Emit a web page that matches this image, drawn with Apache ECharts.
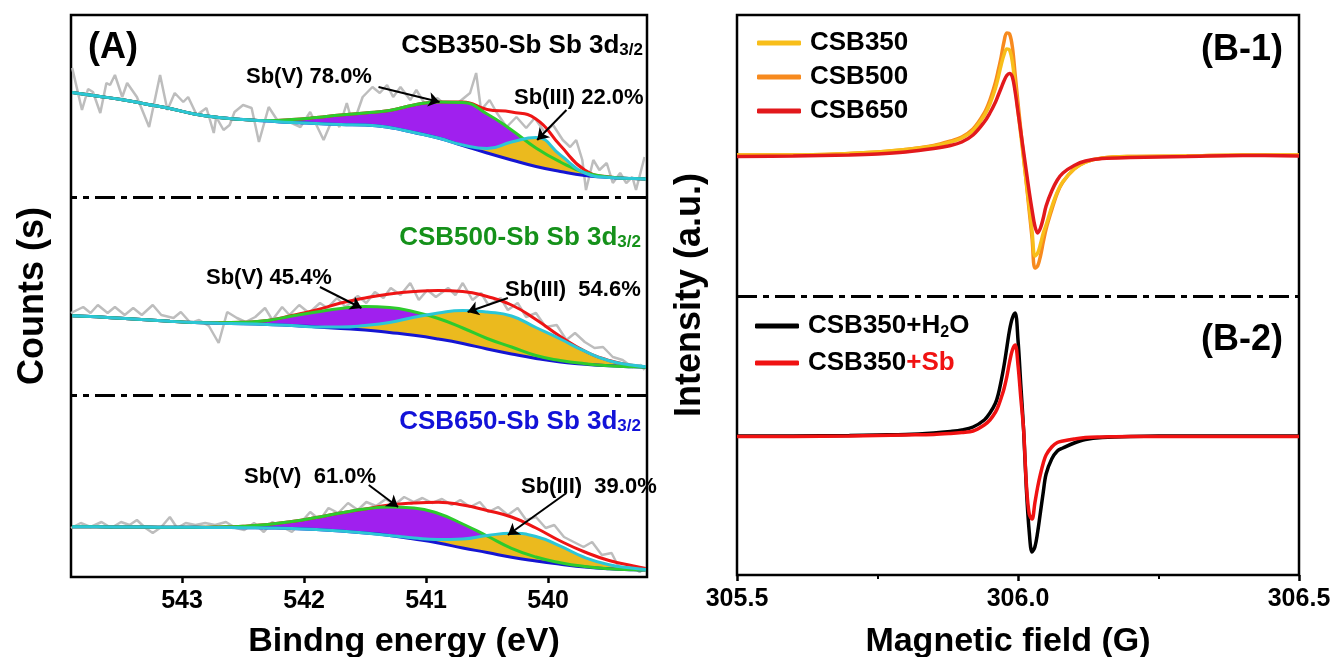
<!DOCTYPE html>
<html>
<head>
<meta charset="utf-8">
<script src="https://cdn.jsdelivr.net/npm/echarts@6/dist/echarts.min.js"></script>
<style>
  html, body { margin: 0; padding: 0; background: #fff; }
  #chart { width: 1331px; height: 657px; }
</style>
</head>
<body>
<div id="chart"></div>
<script>
// ---------- (A) XPS Sb 3d3/2 peak fitting ----------
// binding energies (eV) of the fitted curves
const energy = [543.9, 543.7, 543.5, 543.3, 543.1, 542.9, 542.7, 542.5, 542.3, 542.1, 541.9, 541.7, 541.5,
                541.3, 541.1, 540.9, 540.7, 540.5, 540.3, 540.1, 539.9, 539.7, 539.5, 539.3, 539.2];
const energyTicks = [540, 541, 542, 543];

// CSB350-Sb (counts, offset stack)
const bg350    = [484.5, 481, 477.5, 473, 468.5, 463, 459.5, 457.5, 456, 454.5, 453.5, 452.5, 452, 449.5, 444.5, 439, 431.5, 424, 417, 410.5, 405.5, 401.5, 399.5, 398.5, 398];
const sbV350   = [0, 0, 0, 0, 0, 0, 0, 0, 0.5, 3, 6, 9.5, 12, 17, 27.5, 36, 43, 39, 30, 18.5, 9.5, 3, 0.5, 0, 0];
const sbIII350 = [0, 0, 0, 0, 0, 0, 0, 0, 0, 0, 0, 0, 0, 0, 0, 0, 0.5, 4.5, 18, 29, 16.5, 2.5, 0, 0, 0];
const env350   = [484.5, 481, 477.5, 473, 468.5, 463, 459.5, 457.5, 456.5, 457.5, 459.5, 462, 464, 466.5, 472, 475, 475, 467.5, 465, 458, 431.5, 407, 400, 398.5, 398];
const raw350 = [[543.90,509],[543.82,467],[543.77,488],[543.73,485],[543.67,464],[543.62,494],[543.59,492],[543.55,502],[543.49,480],[543.45,494],[543.37,480],[543.27,450],[543.18,502],[543.12,467],[543.06,484],[542.99,475],[542.95,480],[542.88,462],[542.80,469],[542.74,444],[542.72,460],[542.66,447],[542.61,452],[542.57,465],[542.50,472],[542.43,469],[542.37,435],[542.29,470],[542.21,455],[542.12,455],[542.03,450],[541.95,465],[541.84,437],[541.76,460],[541.71,450],[541.65,474],[541.60,452],[541.52,480],[541.44,490],[541.38,484],[541.32,492],[541.27,480],[541.21,490],[541.13,477],[541.08,487],[540.99,469],[540.91,479],[540.86,474],[540.78,470],[540.71,477],[540.64,484],[540.59,504],[540.55,467],[540.48,477],[540.42,464],[540.34,450],[540.26,460],[540.18,449],[540.11,459],[540.03,445],[539.96,452],[539.88,437],[539.82,430],[539.77,437],[539.72,417],[539.69,387],[539.63,417],[539.58,407],[539.52,414],[539.47,394],[539.41,404],[539.36,394],[539.31,400],[539.28,387],[539.21,420]];

// CSB500-Sb
const bg500    = [261.3, 260.2, 258.7, 257.2, 255.7, 254.5, 253.8, 253.2, 252.5, 251.5, 250, 248.5, 247, 244.5, 241.7, 238, 233.5, 228, 223, 218.5, 215, 212.8, 211.2, 210.2, 209.7];
const sbV500   = [0, 0, 0, 0, 0, 0, 0.5, 1.5, 4, 9.5, 15, 20, 23.5, 25, 23.5, 20.5, 15.5, 10.5, 7, 3, 1.5, 0.5, 0, 0, 0];
const sbIII500 = [0, 0, 0, 0, 0, 0, 0, 0, 0, 0, 0, 1.5, 4.5, 10, 18, 26, 33, 37, 38, 31, 23, 13, 5, 1.5, 0.5];
const env500   = [261.3, 260.2, 258.7, 257.2, 255.7, 254.5, 254.3, 254.7, 256.5, 261.5, 267, 274, 279, 283, 285.5, 286.5, 285.5, 280.5, 272, 257.5, 240.5, 226, 216.5, 211.5, 210];
const raw500 = [[543.91,264],[543.81,270],[543.75,264],[543.69,272],[543.61,264],[543.55,270],[543.47,262],[543.40,269],[543.33,262],[543.24,272],[543.17,262],[543.07,259],[543.01,265],[542.93,254],[542.86,257],[542.78,251],[542.70,234],[542.63,265],[542.55,259],[542.48,255],[542.40,260],[542.32,269],[542.26,257],[542.18,270],[542.12,262],[542.04,272],[541.96,264],[541.87,274],[541.81,269],[541.73,279],[541.66,270],[541.56,281],[541.49,274],[541.42,285],[541.35,279],[541.29,289],[541.21,282],[541.13,294],[541.06,277],[540.99,287],[540.92,280],[540.82,289],[540.76,282],[540.70,294],[540.62,277],[540.55,284],[540.49,272],[540.39,279],[540.33,267],[540.25,274],[540.18,260],[540.10,264],[540.02,250],[539.93,252],[539.85,237],[539.78,244],[539.70,235],[539.62,229],[539.55,230],[539.47,220],[539.39,217],[539.31,210],[539.24,212],[539.21,207]];

// CSB650-Sb
const bg650    = [50.3, 50.2, 50, 49.9, 49.8, 49.7, 49.5, 49.3, 49, 48.5, 47.5, 46, 44, 41.5, 38, 34, 29, 24.5, 19.7, 16, 12.8, 10, 8.2, 7.3, 7];
const sbV650   = [0, 0, 0, 0, 0, 0, 0.5, 1.5, 3.5, 7, 12, 18, 24, 28.5, 31, 29.5, 24, 16.5, 9, 4, 1.5, 0.5, 0, 0, 0];
const sbIII650 = [0, 0, 0, 0, 0, 0, 0, 0, 0, 0, 0, 0, 0, 0, 1, 3.5, 9, 17, 24, 24.5, 18, 9.5, 4, 1.5, 0.5];
const env650   = [50.3, 50.2, 50, 49.9, 49.8, 49.7, 50, 50.8, 52.5, 55.5, 59.5, 64, 68, 72, 74, 74.7, 72, 66.5, 60, 49, 36, 25, 16.5, 11, 8.5];
const raw650 = [[543.91,49],[543.83,54],[543.75,50],[543.66,55],[543.58,49],[543.50,55],[543.43,52],[543.37,57],[543.30,49],[543.24,44],[543.17,50],[543.10,60],[543.04,49],[542.97,54],[542.89,52],[542.81,54],[542.73,52],[542.64,55],[542.56,49],[542.49,47],[542.41,54],[542.33,45],[542.26,55],[542.18,50],[542.10,45],[542.03,54],[541.95,65],[541.87,57],[541.80,69],[541.72,64],[541.64,74],[541.56,67],[541.49,75],[541.41,71],[541.33,78],[541.26,72],[541.18,80],[541.10,75],[541.03,79],[540.95,74],[540.87,78],[540.79,72],[540.72,77],[540.64,70],[540.56,75],[540.49,65],[540.41,70],[540.33,62],[540.25,69],[540.18,57],[540.10,60],[540.02,49],[539.95,52],[539.87,40],[539.79,35],[539.71,30],[539.64,35],[539.56,22],[539.48,24],[539.41,7],[539.33,12],[539.25,5],[539.21,9]];

// ---------- (B) EPR spectra ----------
const field = [305.50, 305.60, 305.70, 305.75, 305.80, 305.85, 305.88, 305.90, 305.92, 305.94, 305.95, 305.96,
               305.965, 305.97, 305.975, 305.98, 305.985, 305.99, 305.995, 306.00, 306.005, 306.01, 306.015,
               306.02, 306.025, 306.03, 306.035, 306.04, 306.045, 306.05, 306.06, 306.07, 306.08, 306.10,
               306.12, 306.15, 306.20, 306.30, 306.40, 306.50];
const fieldTicks = [305.5, 306.0, 306.5];

// (B-1) intensity, offset upper trace
const eprCSB350 = [420, 420, 421.5, 423, 425.5, 429, 433, 437, 444.5, 459.5, 471, 487, 498, 510, 520, 526, 525, 513, 489, 464, 440, 416, 392, 368, 344, 319, 322, 331, 342, 350, 368, 383, 393.5, 406, 413, 417, 418.5, 419, 420, 420];
const eprCSB500 = [420, 420, 421.5, 423, 425.5, 429.5, 434, 438, 446, 462, 475, 493, 505, 518, 533, 542, 541, 528, 500, 472, 445, 418, 391, 364, 337, 307, 309, 319, 333, 346, 365, 382, 393, 406, 413, 417, 418.5, 419, 420, 420];
const eprCSB650 = [418.5, 419, 420, 421, 423, 426.5, 429.5, 433, 440, 453, 462, 473, 480, 487, 494, 499.5, 501.5, 498, 483, 463, 443, 423, 403, 383, 365, 349, 342, 347, 357, 369, 384, 395, 402, 409.5, 414, 416.5, 417.5, 418.5, 419.5, 419];
// (B-2) intensity, offset lower trace
const eprH2O = [139, 139, 139.5, 140, 140.5, 142, 143.5, 145, 148, 155, 162, 172, 181, 194, 209, 227, 245, 257, 262, 235, 190, 145, 85, 43, 23, 28, 43, 63, 83, 101, 116, 124, 127, 132, 135.5, 137.5, 138.5, 139, 139, 139];
const eprSb  = [138.5, 138.5, 139, 139.5, 140, 140.5, 141.5, 142.5, 144, 150, 155, 163, 169, 177, 186, 198, 213, 225, 230, 210, 177, 145, 90, 61, 56, 72, 88, 101, 112, 120, 128, 132.5, 134, 136, 137.5, 138, 138.5, 138.5, 138.5, 138.5];

// ---------- helpers ----------
const FONT = '"Liberation Sans", Arial, Helvetica, sans-serif';
const pair = (xs, ys) => xs.map((x, i) => [x, ys[i]]);
// value-first rows: with two value axes ECharts stacks the first dimension,
// so the y value goes in column 0 and encode maps it back onto the y axis
const pairYX = (xs, ys) => xs.map((x, i) => [ys[i], x]);
const add = (a, b) => a.map((v, i) => +(v + b[i]).toFixed(2));

const C = {
  raw: '#BDBDBD', purple: '#A020EE', yellow: '#EBBA1E', red: '#EE1515',
  blue: '#1515D2', green: '#2DCB2D', cyan: '#2CC6D6'
};

function xpsPanel(tag, bg, sbV, sbIII, env, raw, arrows, separators) {
  const base = { type: 'line', xAxisIndex: 0, yAxisIndex: 0, symbol: 'none', smooth: 0.5, silent: true };
  const stacked = Object.assign({}, base, { encode: { x: 1, y: 0 } });
  const rawSeries = Object.assign({}, base, {
    name: tag + ' raw', data: raw, smooth: false, z: 1,
    lineStyle: { color: C.raw, width: 2.5 }
  });
  if (separators) {
    rawSeries.markLine = {
      silent: true, symbol: 'none', label: { show: false },
      lineStyle: { color: '#000', width: 3, type: [20, 6, 6, 6] },
      data: separators.map(v => ({ yAxis: v }))
    };
  }
  return [
    rawSeries,
    Object.assign({}, stacked, { name: tag + ' base V', stack: tag + 'V', data: pairYX(energy, bg), lineStyle: { opacity: 0 }, z: 2 }),
    Object.assign({}, stacked, { name: tag + ' Sb(V)', stack: tag + 'V', data: pairYX(energy, sbV), lineStyle: { opacity: 0 },
      areaStyle: { color: C.purple, opacity: 1 }, z: 2 }),
    Object.assign({}, stacked, { name: tag + ' base III', stack: tag + 'III', data: pairYX(energy, bg), lineStyle: { opacity: 0 }, z: 2 }),
    Object.assign({}, stacked, { name: tag + ' Sb(III)', stack: tag + 'III', data: pairYX(energy, sbIII), lineStyle: { opacity: 0 },
      areaStyle: { color: C.yellow, opacity: 1 }, z: 2 }),
    Object.assign({}, base, { name: tag + ' envelope', data: pair(energy, env), lineStyle: { color: C.red, width: 3 }, z: 3 }),
    Object.assign({}, base, { name: tag + ' background', data: pair(energy, bg), lineStyle: { color: C.blue, width: 3 }, z: 3 }),
    Object.assign({}, base, { name: tag + ' Sb(V) fit', data: pair(energy, add(bg, sbV)), lineStyle: { color: C.green, width: 3 }, z: 3 }),
    Object.assign({}, base, { name: tag + ' Sb(III) fit', data: pair(energy, add(bg, sbIII)), lineStyle: { color: C.cyan, width: 3 }, z: 3,
      markLine: {
        silent: true, symbol: ['none', 'arrow'], symbolSize: 11, label: { show: false },
        lineStyle: { color: '#000', width: 2, type: 'solid' },
        data: arrows.map(a => [{ coord: a[0] }, { coord: a[1] }])
      }
    })
  ];
}

function eprSeries(name, vals, color, width, extra) {
  return Object.assign({
    type: 'line', name, xAxisIndex: 1, yAxisIndex: 1, data: pair(field, vals),
    symbol: 'none', smooth: 0.35, silent: true, z: 3,
    lineStyle: { color, width }, itemStyle: { color }
  }, extra || {});
}

const series = [].concat(
  xpsPanel('CSB350', bg350, sbV350, sbIII350, env350, raw350,
    [[[541.39, 490], [540.89, 475]], [[539.85, 467], [540.09, 437]]], [380, 182]),
  xpsPanel('CSB500', bg500, sbV500, sbIII500, env500, raw500,
    [[[541.87, 290], [541.53, 269]], [[540.33, 279], [540.66, 265]]]),
  xpsPanel('CSB650', bg650, sbV650, sbIII650, env650, raw650,
    [[[541.47, 92], [541.23, 70]], [[539.85, 84], [540.33, 42]]]),
  [
    eprSeries('CSB500', eprCSB500, '#F78A1E', 3.5, {
      markLine: {
        silent: true, symbol: 'none', label: { show: false },
        lineStyle: { color: '#000', width: 3, type: [20, 6, 6, 6] },
        data: [{ yAxis: 279 }]
      }
    }),
    eprSeries('CSB350', eprCSB350, '#F8BE1A', 3.5),
    eprSeries('CSB650', eprCSB650, '#E2191C', 3.5),
    eprSeries('CSB350+H2O', eprH2O, '#000000', 3.5),
    eprSeries('CSB350+Sb', eprSb, '#F01212', 3.5)
  ]
);

const tickLine = { show: true, length: 6, lineStyle: { color: '#000', width: 2.5 } };
const tickLabel = { fontSize: 25, fontWeight: 'bold', color: '#000', fontFamily: FONT, margin: 12 };
const axisTitle = { fontSize: 34, fontWeight: 'bold', color: '#000', fontFamily: FONT };

const label = (text, x, y, size, extra) => ({
  type: 'text', x, y, silent: true, z: 100,
  style: Object.assign({ text, fill: '#000', fontSize: size, fontWeight: 'bold', fontFamily: FONT,
    align: 'left', verticalAlign: 'middle' }, extra || {})
});
const subRich = color => ({
  m: { fontSize: 26, fontWeight: 'bold', fontFamily: FONT, lineHeight: 26, verticalAlign: 'top', fill: color },
  s: { fontSize: 17, fontWeight: 'bold', fontFamily: FONT, lineHeight: 17, verticalAlign: 'bottom', padding: [15, 0, 0, 0], fill: color }
});
const stateLabel = (name, x, y, color) => label('{m|' + name + '}{s|3/2}', x, y, 26,
  { align: 'right', verticalAlign: 'top', fill: color, rich: subRich(color) });

const option = {
  animation: false,
  backgroundColor: '#fff',
  grid: [
    { left: 71, right: 684, top: 15, bottom: 80, outerBoundsMode: 'none',
      show: true, borderColor: '#000', borderWidth: 2.5 },
    { left: 737, right: 32, top: 15, bottom: 82, outerBoundsMode: 'none',
      show: true, borderColor: '#000', borderWidth: 2.5 }
  ],
  xAxis: [
    {
      gridIndex: 0, type: 'value', inverse: true, min: 539.19, max: 543.91,
      axisLine: { show: false }, splitLine: { show: false },
      axisTick: Object.assign({ customValues: energyTicks }, tickLine),
      axisLabel: Object.assign({ customValues: energyTicks }, tickLabel),
      name: 'Bindng energy (eV)', nameLocation: 'middle', nameGap: 48,
      nameTextStyle: Object.assign({}, axisTitle, { padding: [0, 0, 0, 90] })
    },
    {
      gridIndex: 1, type: 'value', min: 305.5, max: 306.5, interval: 0.5,
      axisLine: { show: false }, splitLine: { show: false },
      axisTick: Object.assign({ customValues: fieldTicks }, tickLine),
      minorTick: { show: true, splitNumber: 2, length: 4, lineStyle: { color: '#000', width: 2 } },
      axisLabel: Object.assign({ customValues: fieldTicks, formatter: v => v.toFixed(1) }, tickLabel),
      name: 'Magnetic field (G)', nameLocation: 'middle', nameGap: 50,
      nameTextStyle: Object.assign({}, axisTitle, { padding: [0, 20, 0, 0] })
    }
  ],
  yAxis: [
    {
      gridIndex: 0, type: 'value', min: 0, max: 562,
      axisLine: { show: false }, axisTick: { show: false }, axisLabel: { show: false }, splitLine: { show: false },
      name: 'Counts (s)', nameLocation: 'middle', nameGap: 20,
      nameTextStyle: Object.assign({}, axisTitle, { fontSize: 36 })
    },
    {
      gridIndex: 1, type: 'value', min: 0, max: 560,
      axisLine: { show: false }, axisTick: { show: false }, axisLabel: { show: false }, splitLine: { show: false },
      name: 'Intensity (a.u.)', nameLocation: 'middle', nameGap: 29,
      nameTextStyle: Object.assign({}, axisTitle, { fontSize: 36 })
    }
  ],
  legend: [
    {
      data: ['CSB350', 'CSB500', 'CSB650'], orient: 'vertical', left: 752, top: 25,
      icon: 'roundRect', itemWidth: 44, itemHeight: 5, itemGap: 8, selectedMode: false,
      textStyle: { fontSize: 26, fontWeight: 'bold', color: '#000', fontFamily: FONT, padding: [0, 0, 0, 4] }
    },
    {
      data: ['CSB350+H2O', 'CSB350+Sb'], orient: 'vertical', left: 750, top: 306,
      icon: 'roundRect', itemWidth: 44, itemHeight: 5, itemGap: 9, selectedMode: false,
      formatter: name => name === 'CSB350+H2O' ? '{n|CSB350+H}{s|2}{n|O}' : '{n|CSB350}{r|+Sb}',
      textStyle: {
        fontSize: 26, fontWeight: 'bold', color: '#000', fontFamily: FONT, padding: [0, 0, 0, 4],
        rich: {
          n: { fontSize: 26, fontWeight: 'bold', fontFamily: FONT, color: '#000', lineHeight: 30 },
          s: { fontSize: 16, fontWeight: 'bold', fontFamily: FONT, color: '#000', lineHeight: 16, verticalAlign: 'bottom', padding: [14, 0, 0, 0] },
          r: { fontSize: 26, fontWeight: 'bold', fontFamily: FONT, color: '#F01212', lineHeight: 30 }
        }
      }
    }
  ],
  graphic: [
    label('(A)', 88, 48, 36),
    stateLabel('CSB350-Sb Sb 3d', 643, 33, '#000'),
    stateLabel('CSB500-Sb Sb 3d', 641, 225, '#15911A'),
    stateLabel('CSB650-Sb Sb 3d', 641, 409, '#1212D8'),
    label('Sb(V) 78.0%', 246, 77, 22),
    label('Sb(III) 22.0%', 514, 98, 22),
    label('Sb(V) 45.4%', 206, 278, 22),
    label('Sb(III)  54.6%', 505, 290, 22),
    label('Sb(V)  61.0%', 244, 477, 22),
    label('Sb(III)  39.0%', 521, 487, 22),
    label('(B-1)', 1283, 50, 36, { align: 'right' }),
    label('(B-2)', 1283, 340, 36, { align: 'right' })
  ],
  series
};

echarts.init(document.getElementById('chart'), null, { renderer: 'canvas' }).setOption(option);
</script>
</body>
</html>
